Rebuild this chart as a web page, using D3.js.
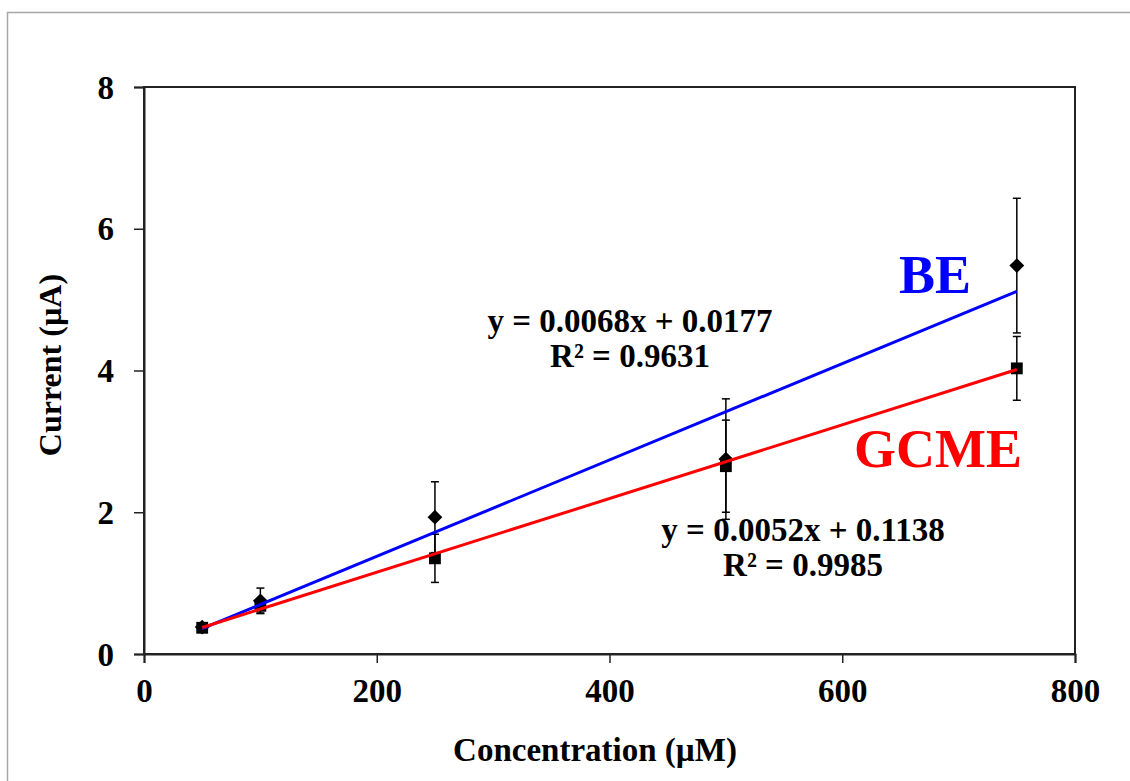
<!DOCTYPE html>
<html>
<head>
<meta charset="utf-8">
<script src="https://cdn.jsdelivr.net/npm/d3@7"></script>
<style>
    html, body { margin: 0; padding: 0; background: #fff; }
    svg text { font-family: "Liberation Serif", "Times New Roman", serif; font-weight: bold; }
</style>
</head>
<body>
<svg id="chart" width="1130" height="781"></svg>
<script>
// concentrations (µM)
const concentrations = [50, 100, 250, 500, 750];
// BE electrode: mean current and error (µA)
const beValues = [0.38, 0.75, 1.93, 2.75, 5.48];
const beErrors = [0.05, 0.18, 0.50, 0.85, 0.95];
// GCME electrode
const gcmeValues = [0.37, 0.68, 1.35, 2.65, 4.03];
const gcmeErrors = [0.04, 0.10, 0.34, 0.65, 0.45];
// trendline coefficients [slope, intercept]
const beFit = [0.0068, 0.0177];
const gcmeFit = [0.0052, 0.1138];
const xTicks = [0, 200, 400, 600, 800];
const yTicks = [0, 2, 4, 6, 8];

const svg = d3.select("#chart");
const margin = { left: 144, top: 87, right: 1075, bottom: 654 };

const x = d3.scaleLinear().domain([0, 800]).range([margin.left, margin.right]);
const y = d3.scaleLinear().domain([0, 8]).range([margin.bottom, margin.top]);

// outer chart frame
svg.append("rect")
    .attr("x", 7.5).attr("y", 12.5)
    .attr("width", 1200).attr("height", 900)
    .attr("fill", "none")
    .attr("stroke", "#a6a6a6")
    .attr("stroke-width", 1.5);

// plot area border
svg.append("rect")
    .attr("x", margin.left).attr("y", margin.top)
    .attr("width", margin.right - margin.left)
    .attr("height", margin.bottom - margin.top)
    .attr("fill", "none")
    .attr("stroke", "#222")
    .attr("stroke-width", 2);

svg.append("g")
    .attr("transform", `translate(0, ${margin.bottom})`)
    .call(d3.axisBottom(x).tickValues(xTicks).tickSize(9).tickPadding(16))
    .call(g => g.select(".domain").attr("stroke", "#222").attr("stroke-width", 2))
    .call(g => g.selectAll(".tick line").attr("stroke", "#222").attr("stroke-width", 1.5))
    .call(g => g.selectAll(".tick text").attr("fill", "#000").style("font-size", "33px")
        .style("font-family", "Liberation Serif").style("font-weight", "bold"));

svg.append("g")
    .attr("transform", `translate(${margin.left}, 0)`)
    .call(d3.axisLeft(y).tickValues(yTicks).tickSize(10).tickPadding(20))
    .call(g => g.select(".domain").attr("stroke", "#222").attr("stroke-width", 2))
    .call(g => g.selectAll(".tick line").attr("stroke", "#222").attr("stroke-width", 1.5))
    .call(g => g.selectAll(".tick text").attr("fill", "#000").style("font-size", "33px")
        .style("font-family", "Liberation Serif").style("font-weight", "bold")
        .attr("dy", "0.34em"));

// axis titles
svg.append("text")
    .attr("x", 595).attr("y", 761)
    .attr("text-anchor", "middle")
    .style("font-size", "33px")
    .text("Concentration (µM)");

svg.append("text")
    .attr("transform", "translate(61, 365) rotate(-90)")
    .attr("text-anchor", "middle")
    .style("font-size", "32px")
    .text("Current (µA)");

// trendlines
const xMin = d3.min(concentrations), xMax = d3.max(concentrations);
function drawFit(fit, color) {
    const ends = [xMin, xMax].map(c => [x(c), y(fit[0] * c + fit[1])]);
    svg.append("path")
        .attr("d", d3.line()(ends))
        .attr("stroke", color)
        .attr("stroke-width", 3)
        .attr("fill", "none");
}

// error bars
function drawErrors(values, errors) {
    const g = svg.append("g").attr("stroke", "#000").attr("stroke-width", 1.5);
    concentrations.forEach((c, i) => {
        const cx = x(c), top = y(values[i] + errors[i]), bot = y(values[i] - errors[i]);
        g.append("line").attr("x1", cx).attr("x2", cx).attr("y1", top).attr("y2", bot);
        g.append("line").attr("x1", cx - 4).attr("x2", cx + 4).attr("y1", top).attr("y2", top);
        g.append("line").attr("x1", cx - 4).attr("x2", cx + 4).attr("y1", bot).attr("y2", bot);
    });
}

drawErrors(beValues, beErrors);
drawErrors(gcmeValues, gcmeErrors);

svg.selectAll(".be-point")
    .data(concentrations)
    .join("path")
    .attr("class", "be-point")
    .attr("d", d3.symbol(d3.symbolDiamond2, 140))
    .attr("transform", (d, i) => `translate(${x(d)}, ${y(beValues[i])})`)
    .attr("fill", "#000");

svg.selectAll(".gcme-point")
    .data(concentrations)
    .join("path")
    .attr("class", "gcme-point")
    .attr("d", d3.symbol(d3.symbolSquare, 140))
    .attr("transform", (d, i) => `translate(${x(d)}, ${y(gcmeValues[i])})`)
    .attr("fill", "#000");

drawFit(beFit, "#0000ff");
drawFit(gcmeFit, "#ff0000");

// equation labels
function equation(fit, r2, cx, by) {
    svg.append("text")
        .attr("x", cx).attr("y", by)
        .attr("text-anchor", "middle")
        .style("font-size", "33px")
        .text(`y = ${fit[0].toFixed(4)}x + ${fit[1].toFixed(4)}`);
    svg.append("text")
        .attr("x", cx).attr("y", by + 35)
        .attr("text-anchor", "middle")
        .style("font-size", "33px")
        .text(`R² = ${r2}`);
}
equation(beFit, "0.9631", 630, 332);
equation(gcmeFit, "0.9985", 803, 541);

svg.append("text")
    .attr("x", 935).attr("y", 293)
    .attr("text-anchor", "middle")
    .attr("fill", "#0000ff")
    .style("font-size", "54px")
    .text("BE");

svg.append("text")
    .attr("x", 938).attr("y", 467)
    .attr("text-anchor", "middle")
    .attr("fill", "#ff0000")
    .style("font-size", "54px")
    .text("GCME");
</script>
</body>
</html>
